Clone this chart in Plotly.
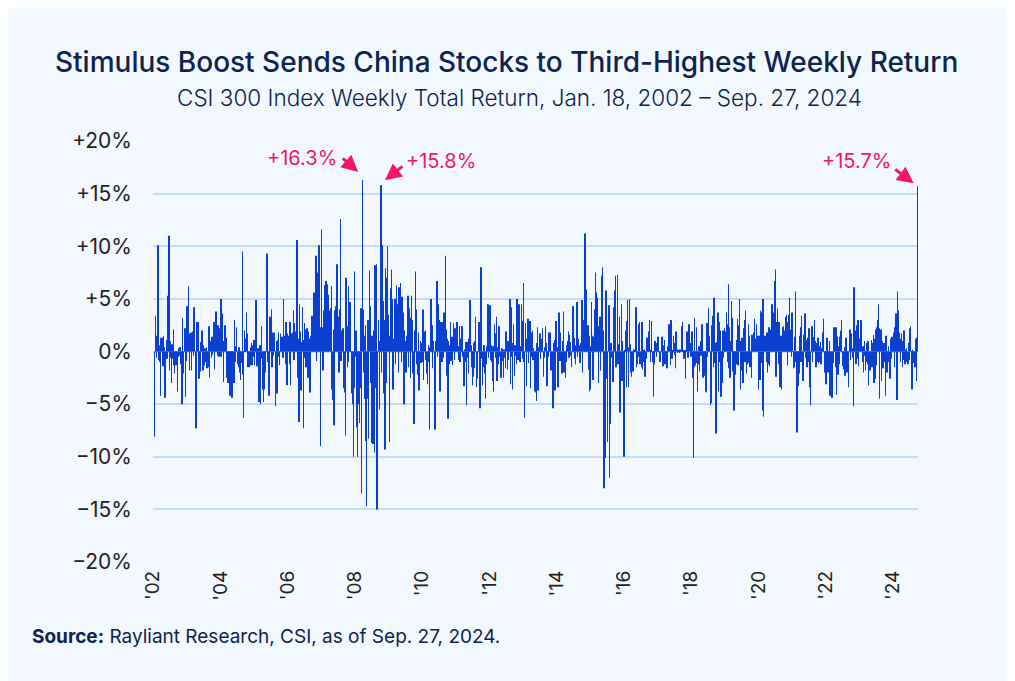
import pandas as pd
import plotly.graph_objects as go

# Weekly total returns (%) of the CSI 300 index, one list per calendar year
y2002 = [-8.1, 3.4, 1.5, -0.6, 0.8, 10.1, -0.8, -1.0, 0.6, -4.2, 1.3, 1.3, -0.5, -1.4, 1.5, 0.4, -4.4, -2.2, 1.1, -0.7,
         5.3, 2.1, 11.0, -1.8, 1.0, -0.6, -3.0, 0.7, -0.7, 2.1, -1.3, -2.1, -0.9, -1.3, -0.5, -3.8, -0.5, 0.3, -0.4, 0.4,
         -0.8, -1.2, -5.0, 3.2, -0.6, -2.1, 0.7, 2.2, -4.3, -0.9]
y2003 = [4.3, 0.5, 6.2, 1.7, -1.8, 0.9, 1.8, -1.8, 0.6, 1.9, -0.4, 4.2, 1.1, -0.6, -7.3, 2.8, 0.7, 2.8, 1.2, -2.6,
         -0.5, -1.9, 0.9, 2.0, -0.8, -1.8, 0.6, -1.3, 0.3, -1.0, 0.4, -1.6, -0.7, -1.5, 2.4, -2.5, 0.8, 1.0, -0.6, 1.4,
         -0.3, 2.4, 2.8, -1.7, 0.6, 3.8, 1.2, -0.4, 2.5, 1.5, -0.5, 2.2]
y2004 = [5.0, -0.5, 5.0, 3.6, 1.0, -2.9, 1.2, 2.5, 0.6, 1.3, -2.5, -1.2, -3.0, -2.5, -0.6, -4.2, -2.5, -1.0, -4.4, -1.9,
         -0.8, -3.0, 3.0, -1.0, 0.5, 2.3, -1.2, -0.8, -1.5, 0.4, -2.0, -2.7, -1.1, -0.4, 9.5, -2.2, -6.3, 2.0, 0.1, 1.2,
         3.7, 1.7, -1.5, -0.6, -1.5, -0.8, -1.3, 0.4, 0.8, -1.3, 0.6, -0.5, 1.1]
y2005 = [-1.3, 0.5, 4.9, 4.1, -1.4, 0.3, -2.2, -4.8, 0.6, -5.0, -0.7, 2.4, -3.6, -1.2, -4.8, -3.6, -2.0, -1.0, 0.8, 9.3,
         2.3, -1.0, -4.2, 1.5, 3.3, 0.6, 4.0, -1.5, 1.8, -0.4, 1.8, 0.5, -5.2, -0.2, 1.0, -4.0, 1.1, 1.8, -0.5, -1.3,
         1.7, 0.7, 1.4, 1.4, -0.6, 5.0, 1.4, 1.5, -1.2, 2.8, -3.2, 1.7]
y2006 = [1.5, 0.6, -1.2, 2.8, -3.2, 1.7, 0.4, 1.8, 3.9, -0.8, 2.7, 1.9, 0.8, 2.2, 10.6, -2.5, 1.2, -6.7, 4.5, 1.9,
         -3.7, 0.9, 4.2, 1.1, -7.3, 2.7, -0.6, 2.1, -1.5, 2.2, 1.3, -2.5, 1.9, 1.2, -3.9, 1.5, 1.3, 3.4, 0.5, 4.7,
         5.6, 2.9, 0.6, 9.1, -0.9, 7.5, 3.8, 5.3, 10.1, 1.3, -9.0, 2.3]
y2007 = [11.6, 2.3, -1.8, 3.9, 4.1, 6.3, 5.9, 6.7, 6.4, 6.0, 2.3, 5.4, 3.9, 1.2, 4.1, 6.2, -3.6, -4.6, 2.1, -7.0,
         3.9, 1.0, 4.3, 6.7, 8.3, 4.6, 3.3, -2.0, 4.0, 12.6, -0.9, 2.0, 1.8, 2.2, 2.0, -3.5, -3.9, -8.0, 7.0, 2.4,
         -1.5, -1.0, 6.2, 2.4, 4.7, 3.8, -4.0, -2.5, -5.0, -10.0, -3.5, 7.6]
y2008 = [-0.5, 2.0, -7.2, -4.4, -10.0, -2.8, -5.0, -6.8, -3.5, 4.1, -13.5, 16.3, 4.0, -2.0, 1.5, -4.5, 2.5, -8.5, -14.7, -4.5,
         3.0, -8.3, 7.7, 4.3, -3.0, -8.7, 1.5, -4.9, -8.8, 2.0, -9.6, 8.2, -3.5, 8.3, -15.0, -6.2, 3.0, 1.0, -5.5, 2.0,
         15.8, -2.0, 10.1, 4.8, -4.0, 3.0, -9.3, 7.9, -3.0, 7.0, 10.0, 3.5]
y2009 = [2.5, -8.6, 1.5, 6.0, 7.8, 2.0, 5.0, -3.6, 1.2, 3.0, 5.0, -1.2, 6.3, 4.5, 0.8, -2.0, 6.1, 1.5, 6.5, 3.5,
         -1.0, 5.2, 3.7, -4.9, -5.0, 2.0, 1.0, -2.0, 1.5, 5.0, 5.3, -1.5, 4.1, 3.2, -2.5, 5.3, 3.0, -1.0, -2.1, -6.9,
         1.0, 2.0, 7.6, 4.0, -1.2, -2.2, 1.8, -3.7, -2.5, 1.0, -1.1, 0.8]
y2010 = [-1.0, 4.0, -2.7, 0.5, 1.9, 2.0, -0.8, -2.1, -3.1, -1.0, 0.6, -7.4, 0.4, 1.5, 5.0, 2.5, -1.6, 0.5, 1.0, -2.0,
         -7.4, 1.0, 4.7, 6.7, -0.5, 4.5, 3.0, 1.2, -3.8, 2.8, 0.4, -1.0, 2.8, -0.6, 3.7, 1.5, 9.1, 2.1, -2.3, 1.2,
         -6.4, 1.0, -1.2, 0.6, 2.8, -0.9, 1.4, -1.3, 0.5, 2.7, -0.8, 2.2, 1.0]
y2011 = [1.0, 2.8, 2.2, -0.8, 0.5, 2.4, -1.0, 1.2, 2.4, 2.4, -0.5, -1.8, -3.3, 0.2, -1.0, 0.9, -5.1, 0.9, -0.6, -2.1,
         1.2, 4.9, 1.9, 0.6, -1.5, -3.2, -2.4, 0.8, -1.6, 1.0, 3.3, -3.4, -0.6, -2.6, 0.5, 2.8, -1.0, -5.4, 8.0, 1.9,
         -0.7, -3.2, -1.5, 0.6, -2.1, -4.5, -1.2, 0.5, 4.5, 4.5, -0.6, 1.1]
y2012 = [4.4, -0.8, 0.6, -1.0, -2.8, 0.5, -3.8, 2.6, 1.7, -0.6, 3.3, -2.8, 0.4, -1.2, 2.4, 1.9, -0.5, -2.5, -1.8, 0.3,
         -0.9, -2.5, 0.2, -0.6, -1.6, 1.9, 0.4, -1.7, 1.0, -0.8, 0.5, 5.0, -3.1, 4.2, -0.5, -3.6, 0.8, 2.6, -2.3, 0.6,
         -0.4, -1.2, 5.0, 4.8, -0.8, 4.5, 1.7, -1.0, 0.5, 4.5, 2.9, -0.7]
y2013 = [6.5, -1.0, -6.3, 2.7, 0.5, -3.3, 1.2, 3.1, -1.1, 0.6, 2.9, -3.5, -0.5, 1.8, 2.0, -0.8, 0.3, -3.8, -1.2, -3.9,
         -4.7, 0.8, 2.3, -3.7, 0.4, 1.7, 1.7, -0.7, 0.5, 1.2, 2.2, -2.4, -0.6, 0.4, 2.4, 0.8, -2.4, -3.3, -0.5, 1.7,
         1.8, 0.6, 1.8, -1.8, -0.4, -1.0, -5.4, 0.8, 1.1, -3.7, -0.6, 2.9]
y2014 = [0.4, -1.2, -3.4, 3.7, 0.5, -0.9, 1.8, -0.4, -2.1, 1.0, 3.8, -2.0, -0.5, -2.5, -1.0, 0.6, 0.3, 1.0, 1.9, -0.6,
         1.6, 0.9, -0.4, -1.5, 0.5, 4.3, 3.1, 1.3, -0.7, -1.2, 0.6, 4.7, -0.5, 0.4, 1.2, 0.6, -1.1, 0.8, 2.0, 4.9,
         -2.0, 1.0, 3.0, 8.8, 11.2, 5.9, 2.5, 0.6, 2.5, -1.7, 1.5, -3.8]
y2015 = [-3.6, 0.5, 4.7, 1.5, -2.7, 1.4, 4.0, 2.0, 7.5, 5.6, 5.1, 0.8, 2.4, -3.0, 1.2, 3.3, -1.8, 1.2, 7.2, 8.0,
         2.0, -13.0, -6.4, -10.1, 5.8, -0.4, -2.6, -8.6, 2.3, 4.4, -12.0, -6.9, 0.8, -0.6, -1.0, -2.9, 0.4, 4.2, 5.8, 7.2,
         -1.5, -1.2, 7.3, 0.7, -1.2, 3.3, -5.8, -1.9, 4.5, -2.8, 1.0, -1.9]
y2016 = [-10.0, -0.6, 0.1, 2.0, -3.4, 2.9, 4.9, -3.4, 0.4, 5.0, 0.7, -2.0, -2.4, -1.0, -1.9, -1.0, 0.2, 0.1, 0.5, 4.2,
         -1.5, -1.2, -0.5, 2.6, 2.8, -1.2, -0.4, -1.5, 2.8, -1.7, 0.1, -1.0, 0.2, -2.4, -0.7, 1.1, 1.3, 0.6, 0.6, 1.9,
         3.0, -1.0, 0.1, 2.9, -1.0, -1.0, -4.3, -1.2, 1.0, 0.9, 0.8, -0.5, 0.4]
y2017 = [1.4, 0.9, -0.8, -1.0, -0.3, 0.5, 1.4, 1.3, -1.4, 0.6, 1.1, -1.2, -0.8, -0.6, -1.6, 0.5, 2.1, 2.6, 0.2, -1.3,
         3.0, 0.1, -0.7, 0.1, 1.5, 0.8, -0.3, -1.6, 1.9, 1.6, -0.1, 0.2, 0.1, -0.1, 0.2, 0.1, 2.1, 2.4, 2.8, 0.1,
         -0.7, -0.1, 0.1, -2.6, 0.1, 1.9, -0.6, -0.6, 2.6, 1.4, 0.8, -0.5]
y2018 = [1.4, 1.9, -2.5, -10.1, -1.5, 3.2, -1.3, -1.1, 2.3, -3.8, -1.2, 0.5, -1.9, 0.5, 1.0, -0.4, 2.6, -1.0, -2.5, -0.5,
         -0.9, -2.3, -3.8, -3.9, 2.7, -0.5, 4.1, 0.8, 1.5, -5.1, -4.9, 2.5, 1.8, 3.4, -1.5, 5.1, -1.1, 0.8, -7.8, 0.9,
         1.2, 3.7, -3.8, 2.8, -1.0, 2.0, -4.3, -3.0, 1.0, 2.0, -0.6, 2.2]
y2019 = [1.9, 1.3, 3.7, 2.6, -1.0, 6.4, -1.6, 2.3, -2.5, 1.0, 4.8, 3.2, -1.9, -2.2, -5.6, -4.7, -2.2, -1.2, 1.1, 3.1,
         -1.3, 2.5, 5.0, 1.0, -3.6, -1.8, 1.3, -2.8, -3.0, 2.2, 3.0, -1.0, 3.9, -2.1, -1.2, -1.1, 2.6, -1.1, 1.5, -1.5,
         -0.3, -2.5, 1.6, 1.5, 1.1, 1.8, 3.1, 1.2, 0.3, 2.6, 0.5, 1.5]
y2020 = [-3.6, 1.5, -2.7, 3.9, -1.1, 3.7, -5.6, 5.0, -6.2, 1.3, 1.5, 1.4, -1.0, 1.8, -2.0, -1.2, 2.3, -1.4, 1.5, 2.1,
         1.2, 4.5, 0.6, 3.7, 0.8, 6.7, 7.8, -2.4, 2.8, 4.1, 1.8, -1.2, 2.8, -3.4, -1.5, 1.5, -3.6, 1.1, 2.3, 2.4,
         2.0, 0.9, 3.3, 3.5, 1.0, -1.3, 2.8, 3.5, 5.1, 2.1, 1.9, -0.5]
y2021 = [3.7, 0.9, -1.6, -1.5, 1.4, 5.7, -1.0, -2.0, -7.7, -2.6, -3.3, -2.1, 1.5, 2.3, -1.0, 3.4, -1.0, -2.8, 1.6, 1.4,
         3.6, -0.6, 1.1, -1.5, 1.3, -1.0, 2.2, 1.3, -3.4, -5.1, 1.2, 2.4, -1.0, 1.0, 1.4, 3.0, 1.0, -1.5, 0.8, -1.0,
         1.3, -1.1, 0.5, -1.0, 0.9, -1.2, 0.3, 0.6, 1.8, 3.1, -0.8, -2.0, -1.2]
y2022 = [-3.1, 1.3, -1.1, -2.0, -1.8, 1.0, -4.2, -2.9, -1.0, -4.4, -2.8, -1.1, 2.3, 1.7, -1.5, 2.3, -4.1, 1.4, -2.2, 0.5,
         -1.2, 1.4, 2.0, 1.5, 3.0, -1.4, -0.8, -1.7, 0.4, -2.3, -0.3, 1.3, -2.0, -1.2, -1.9, -3.4, 1.4, 2.1, -0.8, 1.7,
         0.3, -0.6, -5.2, 6.1, 2.4, 2.0, -1.2, 2.5, -0.7, 3.0, -1.4, 0.9]
y2023 = [1.2, 1.3, 3.0, 1.3, -1.0, 0.5, -2.0, 1.0, -0.4, -1.8, -1.0, 0.8, -1.2, 1.0, -3.2, -0.9, -1.8, -1.5, 1.1, -1.5,
         0.8, 1.6, -3.0, 1.2, -2.6, 2.1, -1.3, 2.3, 3.0, 4.5, 2.2, -4.5, 1.7, 2.1, -2.8, 1.0, -1.6, -0.5, 0.8, -1.0,
         -4.2, 1.5, -2.0, -1.2, -1.0, 0.5, -1.4, -2.6, 1.2, -0.7, 1.4, 0.6]
y2024 = [1.8, 0.5, -1.5, 2.3, 3.6, 2.3, -4.6, 5.7, 3.9, 1.8, 1.2, -1.0, 1.2, 1.7, -1.5, 1.0, -0.8, 2.0, -1.2, 0.2,
         -1.0, 0.3, -0.9, -1.2, 0.8, -0.8, 2.2, 2.4, -0.2, -3.6, 0.2, -1.0, -1.1, -1.3, -1.5, 1.2, -2.8, 1.3, 15.7]

years = list(range(2002, 2025))
year_values = [y2002, y2003, y2004, y2005, y2006, y2007, y2008, y2009, y2010, y2011, y2012,
               y2013, y2014, y2015, y2016, y2017, y2018, y2019, y2020, y2021, y2022, y2023, y2024]
first_date = "2002-01-18"
last_date = "2024-09-27"

tick_years = list(range(2002, 2025, 2))
tick_text = ["'" + str(y)[2:] for y in tick_years]
y_ticks = [-20, -15, -10, -5, 0, 5, 10, 15, 20]
y_tick_text = [("+" if v > 0 else ("\u2212" if v < 0 else "")) + str(abs(v)) + "%" for v in y_ticks]

# callouts: (year of the bar, value, label)
callouts = [("2008", 16.3, "+16.3%"), ("2008", 15.8, "+15.8%"), ("2024", 15.7, "+15.7%")]

dates, values = [], []
for yr, vals in zip(years, year_values):
    start = max(pd.Timestamp(f"{yr}-01-01"), pd.Timestamp(first_date))
    end = min(pd.Timestamp(f"{yr}-12-31"), pd.Timestamp(last_date))
    fr = pd.date_range(start, end, freq="W-FRI")
    for d, v in zip(fr, vals):
        dates.append(d)
        values.append(v)

BLUE = "#0A3FD0"
PINK = "#F2146F"
NAVY = "#0E2350"
FONT = "Inter"

fig = go.Figure()
fig.add_trace(go.Bar(x=dates, y=values, marker=dict(color=BLUE, line=dict(width=0)),
                     hoverinfo="skip"))

def bar_date(year, val):
    for d, v in zip(dates, values):
        if d.year == int(year) and abs(v - val) < 1e-9:
            return d
    return None

px_per_pct = 421 / 40.0
arrow_specs = [
    # head x shift, head offset above bar top (px), ax, ay, label x shift, label offset above bar top (px)
    (-4, 8, -17, -15, -60, 22),
    (4, 5, 19, -15, 60, 24),
    (-4, 3, -20, -15, -61, 25),
]
for (yr, val, label), (hx, hy, ax, ay, lx, ly) in zip(callouts, arrow_specs):
    d = bar_date(yr, val)
    fig.add_annotation(x=d, y=val + hy / px_per_pct, xref="x", yref="y", text="",
                       showarrow=True, arrowhead=2, arrowsize=1.1, arrowwidth=3,
                       arrowcolor=PINK, ax=ax, ay=ay, xshift=hx, standoff=0)
    fig.add_annotation(x=d, y=val + ly / px_per_pct, xref="x", yref="y", text=label,
                       showarrow=False, xshift=lx, font=dict(family=FONT, size=20, color=PINK),
                       xanchor="center", yanchor="middle")

# title, subtitle, source (paper coords relative to plot area)
fig.add_annotation(x=0.4627, y=1.1876, xref="paper", yref="paper", xanchor="center", yanchor="middle",
                   text="Stimulus Boost Sends China Stocks to Third-Highest Weekly Return", showarrow=False,
                   font=dict(family=FONT, size=28, color=NAVY, weight=500))
fig.add_annotation(x=0.4797, y=1.1045, xref="paper", yref="paper", xanchor="center", yanchor="middle",
                   text="CSI 300 Index Weekly Total Return, Jan. 18, 2002 \u2013 Sep. 27, 2024", showarrow=False,
                   font=dict(family=FONT, size=22.5, color=NAVY, weight=300))
fig.add_annotation(x=-0.1608, y=-0.178, xref="paper", yref="paper", xanchor="left", yanchor="middle",
                   text="<b>Source:</b> Rayliant Research, CSI, as of Sep. 27, 2024.", showarrow=False,
                   font=dict(family=FONT, size=19, color=NAVY))

fig.update_layout(
    width=1015, height=681,
    paper_bgcolor="#F3F8FE", plot_bgcolor="#F3F8FE",
    margin=dict(l=145, r=105, t=133, b=127),
    bargap=0.3,
    showlegend=False,
    xaxis=dict(
        type="date",
        range=[pd.Timestamp("2001-12-30"), pd.Timestamp(last_date) + pd.Timedelta(days=3)],
        tickvals=[pd.Timestamp(f"{y}-01-01") for y in tick_years], ticktext=tick_text,
        tickangle=-90, showgrid=False, zeroline=False, showline=False, ticks="",
        ticklabelstandoff=4,
        tickfont=dict(family=FONT, size=19, color="#222222"),
    ),
    yaxis=dict(
        range=[-20, 20], tickvals=y_ticks, ticktext=y_tick_text,
        showgrid=True, gridcolor="#C4DCFB", gridwidth=2, zeroline=False, showline=False,
        ticks="", ticklabelstandoff=20,
        tickfont=dict(family=FONT, size=21, color="#222222"),
    ),
)

fig.write_html("out.html")
